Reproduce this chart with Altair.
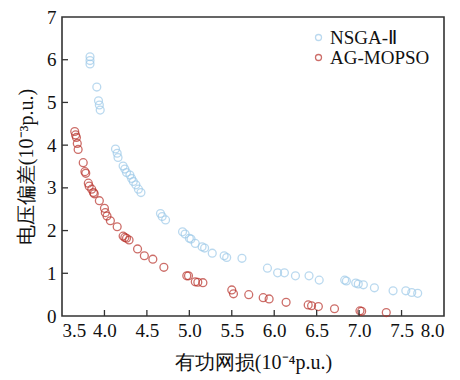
import altair as alt
import pandas as pd

nsga_x = [3.83, 3.83, 3.83, 3.91, 3.93, 3.94, 3.95, 4.13, 4.15, 4.16, 4.22, 4.24, 4.26, 4.30,
          4.32, 4.34, 4.37, 4.40, 4.43, 4.66, 4.68, 4.72, 4.92, 4.95, 5.00, 5.02, 5.07, 5.15,
          5.18, 5.27, 5.41, 5.44, 5.62, 5.92, 6.04, 6.12, 6.25, 6.41, 6.53, 6.83, 6.85, 6.96,
          6.99, 7.05, 7.18, 7.40, 7.55, 7.62, 7.69]
nsga_y = [6.07, 5.98, 5.90, 5.36, 5.04, 4.94, 4.82, 3.91, 3.81, 3.71, 3.51, 3.44, 3.36, 3.30,
          3.22, 3.15, 3.07, 2.97, 2.89, 2.40, 2.33, 2.25, 1.97, 1.92, 1.82, 1.80, 1.70, 1.62,
          1.59, 1.47, 1.41, 1.37, 1.35, 1.12, 1.01, 1.01, 0.94, 0.94, 0.84, 0.84, 0.82, 0.77,
          0.75, 0.73, 0.66, 0.59, 0.59, 0.55, 0.53]

ag_x = [3.65, 3.66, 3.67, 3.68, 3.69, 3.75, 3.77, 3.78, 3.81, 3.82, 3.85, 3.87, 3.88, 3.94,
        4.00, 4.01, 4.03, 4.07, 4.15, 4.22, 4.24, 4.26, 4.29, 4.39, 4.47, 4.57, 4.70, 4.97,
        4.99, 5.07, 5.10, 5.16, 5.50, 5.52, 5.70, 5.87, 5.94, 6.14, 6.40, 6.44, 6.52, 6.71,
        7.01, 7.03, 7.32]
ag_y = [4.32, 4.24, 4.18, 4.04, 3.90, 3.59, 3.38, 3.34, 3.11, 3.04, 2.97, 2.89, 2.86, 2.70,
        2.52, 2.42, 2.34, 2.23, 2.09, 1.87, 1.84, 1.82, 1.78, 1.57, 1.41, 1.33, 1.14, 0.94,
        0.94, 0.80, 0.79, 0.78, 0.61, 0.52, 0.50, 0.43, 0.40, 0.32, 0.26, 0.24, 0.22, 0.17,
        0.12, 0.11, 0.08]

series_names = ["NSGA-Ⅱ", "AG-MOPSO"]
series_colors = ["#9ecae9", "#b8312a"]
x_ticks = [3.5, 4.0, 4.5, 5.0, 5.5, 6.0, 6.5, 7.0, 7.5, 8.0]
y_ticks = [0, 1, 2, 3, 4, 5, 6, 7]

df = pd.concat([
    pd.DataFrame({"x": nsga_x, "y": nsga_y, "s": series_names[0]}),
    pd.DataFrame({"x": ag_x, "y": ag_y, "s": series_names[1]}),
])

W, H = 382, 299
FONT = "'Times New Roman', 'Liberation Serif', serif"

xs = alt.Scale(domain=[3.5, 8.0], nice=False, zero=False)
ys = alt.Scale(domain=[0, 7], nice=False)

points = alt.Chart(df).mark_point(shape="circle", filled=False, size=62, strokeWidth=1.3).encode(
    x=alt.X("x:Q", scale=xs,
            axis=alt.Axis(title="有功网损(10⁻⁴p.u.)", values=x_ticks, format=".1f", ticks=False,
                          labelPadding=5, titlePadding=12, grid=False, domain=False)),
    y=alt.Y("y:Q", scale=ys,
            axis=alt.Axis(title="电压偏差(10⁻³p.u.)", values=y_ticks, format="d", ticks=False,
                          labelPadding=6, titlePadding=10, grid=False, domain=False)),
    color=alt.Color("s:N", scale=alt.Scale(domain=series_names, range=series_colors),
                    legend=alt.Legend(title=None, orient="none", legendX=247, legendY=11,
                                      symbolSize=36, symbolStrokeWidth=1.3, labelFontSize=19,
                                      labelFont=FONT, rowPadding=0, labelOffset=2,
                                      symbolType="circle", symbolFillColor="white")),
)

xt = pd.DataFrame({"t": x_ticks[1:-1]})
yt = pd.DataFrame({"t": y_ticks[1:-1]})
xtick = alt.Chart(xt).mark_rule(color="#333", strokeWidth=1.3).encode(
    x=alt.X("t:Q", scale=xs), y=alt.value(H), y2=alt.value(H - 6))
ytick = alt.Chart(yt).mark_rule(color="#333", strokeWidth=1.3).encode(
    y=alt.Y("t:Q", scale=ys), x=alt.value(0), x2=alt.value(6))

chart = alt.layer(points, xtick, ytick).properties(
    width=W, height=H,
    autosize=alt.AutoSizeParams(type="none"),
    padding={"left": 62, "top": 17, "right": 16, "bottom": 64},
).configure_view(stroke="#333", strokeWidth=1.6).configure_axis(
    labelFont=FONT, titleFont=FONT, labelFontSize=19, titleFontSize=20,
    labelColor="#111", titleColor="#111", titleFontWeight="normal"
).configure_legend(labelColor="#111")

chart.save("out.html", embed_options={"renderer": "svg", "actions": False})
